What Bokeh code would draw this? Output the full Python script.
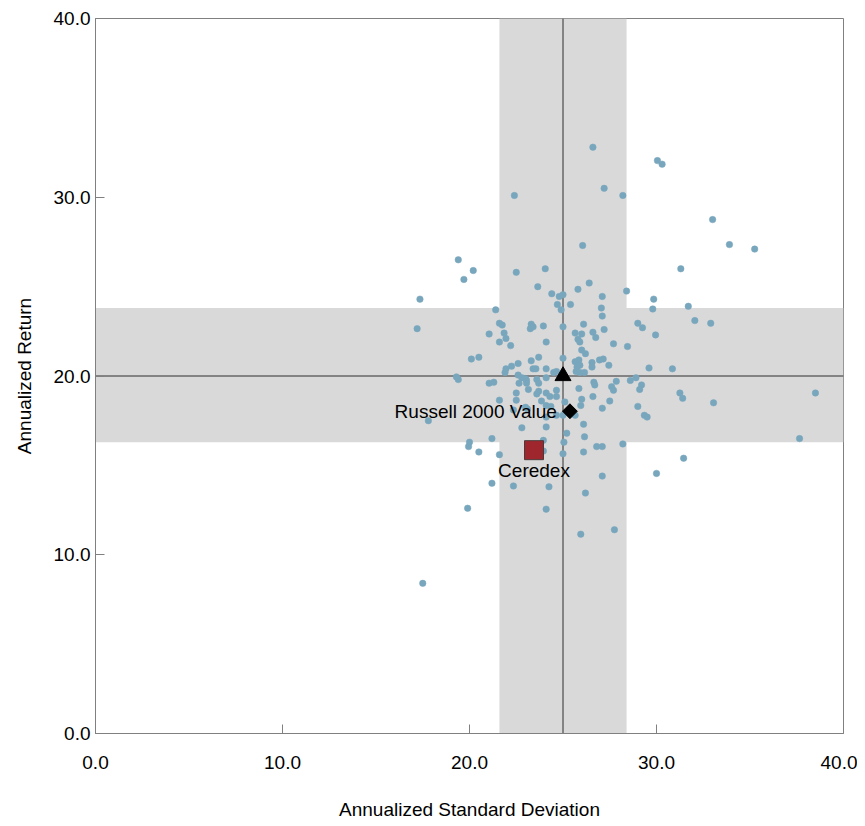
from bokeh.plotting import figure
from bokeh.models import (ColumnDataSource, BoxAnnotation, Span, FixedTicker,
                          NumeralTickFormatter, Range1d)
from bokeh.embed import file_html
from bokeh.resources import INLINE
from bokeh.core.properties import value
import numpy as np

# ---------------- data ----------------
peer_std = [26.6, 30.05, 30.3, 27.2, 28.2, 22.4, 33.0, 33.9, 35.25, 26.05,
            19.4, 20.2, 19.7, 22.5, 24.05, 31.3, 23.65, 26.4, 25.8, 28.4,
            24.4, 24.8, 25.0, 27.1, 17.35, 29.85, 24.7, 25.4, 31.7, 27.05,
            29.8, 21.4, 24.9, 27.1, 29.0, 29.25, 32.05, 32.9, 27.2, 29.95,
            27.7, 28.45, 17.2, 21.6, 21.75, 21.05, 21.85, 21.95, 21.6, 22.2,
            23.3, 23.25, 23.4, 23.95, 25.0, 26.1, 25.65, 26.0, 26.6, 26.75,
            25.8, 25.9, 24.1, 26.0, 26.2, 20.1, 20.5, 23.7, 23.3, 22.6,
            22.25, 21.95, 21.9, 23.4, 23.55, 24.1, 25.0, 25.65, 25.85, 25.75,
            25.9, 26.55, 26.95, 27.15, 26.55, 27.45, 29.6, 30.85, 24.5, 24.65,
            25.7, 25.9, 26.15, 22.6, 22.8, 23.0, 19.3, 19.4, 23.05, 23.05,
            23.6, 23.7, 24.1, 21.05, 21.3, 22.65, 24.65, 25.85, 26.65, 26.7,
            27.85, 28.6, 28.9, 27.6, 27.7, 29.2, 29.1, 31.25, 31.4, 33.05,
            38.5, 23.15, 23.7, 23.6, 24.1, 22.5, 24.3, 24.65, 26.6, 26.0,
            25.95, 27.5, 21.6, 22.5, 23.85, 24.1, 24.35, 25.1, 27.1, 29.0,
            29.35, 29.5, 23.0, 23.1, 22.35, 24.65, 24.1, 25.0, 25.65, 26.1,
            24.1, 22.8, 17.8, 25.2, 26.15, 21.2, 23.95, 25.05, 20.0, 19.95,
            20.5, 21.6, 26.1, 26.8, 27.1, 28.2, 25.0, 37.65, 31.45, 30.0,
            27.1, 23.95, 21.2, 22.35, 24.25, 26.2, 19.9, 24.1, 25.95, 27.75,
            17.5]
peer_ret = [32.8, 32.05, 31.85, 30.5, 30.1, 30.1, 28.75, 27.35, 27.1, 27.3,
            26.5, 25.9, 25.4, 25.8, 26.0, 26.0, 25.0, 25.2, 24.85, 24.75,
            24.6, 24.45, 24.55, 24.45, 24.3, 24.3, 24.0, 24.0, 23.9, 23.8,
            23.75, 23.7, 23.7, 23.35, 22.95, 22.7, 23.1, 22.95, 22.6, 22.3,
            21.8, 21.65, 22.65, 22.95, 22.85, 22.35, 22.4, 22.1, 21.9, 21.7,
            22.9, 22.65, 22.75, 22.8, 22.75, 22.9, 22.4, 22.35, 22.45, 22.15,
            22.05, 21.9, 21.9, 21.45, 21.25, 20.95, 21.05, 21.05, 20.85, 20.7,
            20.55, 20.4, 20.2, 20.4, 20.4, 20.4, 21.0, 20.8, 20.9, 20.5,
            20.6, 20.75, 20.9, 20.95, 20.5, 20.6, 20.45, 20.4, 20.2, 20.25,
            20.25, 20.2, 20.2, 20.05, 19.9, 19.85, 19.95, 19.8, 19.75, 19.6,
            19.8, 19.6, 19.9, 19.6, 19.65, 19.6, 19.2, 19.3, 19.65, 19.5,
            19.7, 19.75, 19.9, 19.4, 19.2, 19.5, 19.25, 19.05, 18.75, 18.5,
            19.05, 19.25, 19.15, 19.0, 19.05, 19.05, 18.85, 18.85, 18.85, 18.7,
            18.35, 18.6, 18.65, 18.65, 18.6, 18.35, 18.3, 18.55, 18.2, 18.3,
            17.8, 17.7, 18.25, 18.15, 18.1, 17.8, 17.7, 17.8, 17.8, 17.3,
            17.15, 17.1, 17.5, 16.8, 16.6, 16.5, 16.4, 16.3, 16.3, 16.05,
            15.75, 15.6, 15.75, 16.05, 16.05, 16.2, 15.65, 16.5, 15.4, 14.55,
            14.4, 15.8, 14.0, 13.85, 13.8, 13.45, 12.6, 12.55, 11.15, 11.4,
            8.4]

median_std = 25.0
median_ret = 20.0
std_band = (21.6, 28.4)
ret_band = (16.3, 23.8)

benchmark_name = ["Russell 2000 Value"]
benchmark_std = [25.37]
benchmark_ret = [18.03]

universe_std = [25.0]
universe_ret = [20.0]

fund_name = ["Ceredex"]
fund_std = [23.45]
fund_ret = [15.85]

ticks = [0, 10, 20, 30, 40]

FONT = "Liberation Sans"

# ---------------- figure ----------------
p = figure(frame_width=748, frame_height=715, output_backend="svg",
           toolbar_location=None, x_range=Range1d(0, 40), y_range=Range1d(0, 40),
           min_border_left=95, min_border_top=18, min_border_bottom=92,
           min_border_right=14)
p.background_fill_color = "white"
p.border_fill_color = "white"
p.outline_line_color = "#808080"
p.xgrid.visible = False
p.ygrid.visible = False

# shaded bands and crosshair
p.add_layout(BoxAnnotation(left=std_band[0], right=std_band[1], fill_color="#d9d9d9",
                           fill_alpha=1, line_alpha=0, level="underlay"))
p.add_layout(BoxAnnotation(bottom=ret_band[0], top=ret_band[1], fill_color="#d9d9d9",
                           fill_alpha=1, line_alpha=0, level="underlay"))
p.add_layout(Span(location=median_std, dimension="height", line_color="#2e2e2e",
                  line_width=1, level="underlay"))
p.add_layout(Span(location=median_ret, dimension="width", line_color="#2e2e2e",
                  line_width=1, level="underlay"))

src = ColumnDataSource(dict(x=peer_std, y=peer_ret))
p.scatter("x", "y", source=src, size=6.5, fill_color="#78a6bd", line_color="#78a6bd",
          line_width=0.5)

p.scatter(universe_std, universe_ret, marker="triangle", size=16, fill_color="black",
          line_color="black")
p.scatter(benchmark_std, benchmark_ret, marker="square", angle=np.pi / 4, size=10.5,
          fill_color="black", line_color="black")
p.scatter(fund_std, fund_ret, marker="square", size=19, fill_color="#a0262d",
          line_color="#4a3a3a", line_width=1)

p.text(benchmark_std, benchmark_ret, text=benchmark_name, x_offset=-13,
       text_align="right", text_baseline="middle", text_font=value(FONT),
       text_font_size="19px", text_color="black")
p.text(fund_std, fund_ret, text=fund_name, y_offset=10,
       text_align="center", text_baseline="top", text_font=value(FONT),
       text_font_size="19px", text_color="black")

for ax in (p.xaxis[0], p.yaxis[0]):
    ax.ticker = FixedTicker(ticks=ticks)
    ax.formatter = NumeralTickFormatter(format="0.0")
    ax.minor_tick_line_color = None
    ax.major_tick_in = 9
    ax.major_tick_out = 0
    ax.axis_line_color = "#808080"
    ax.major_tick_line_color = "#808080"
    ax.major_label_text_font = FONT
    ax.major_label_text_font_size = "19px"
    ax.major_label_text_color = "black"
    ax.axis_label_text_font = FONT
    ax.axis_label_text_font_size = "19px"
    ax.axis_label_text_font_style = "normal"
    ax.axis_label_text_color = "black"

p.xaxis.axis_label = "Annualized Standard Deviation"
p.yaxis.axis_label = "Annualized Return"
p.xaxis.major_label_standoff = 22
p.xaxis.axis_label_standoff = 27
p.yaxis.major_label_standoff = 5
p.yaxis.axis_label_standoff = 16

open("out.html", "w").write(file_html(p, INLINE))
